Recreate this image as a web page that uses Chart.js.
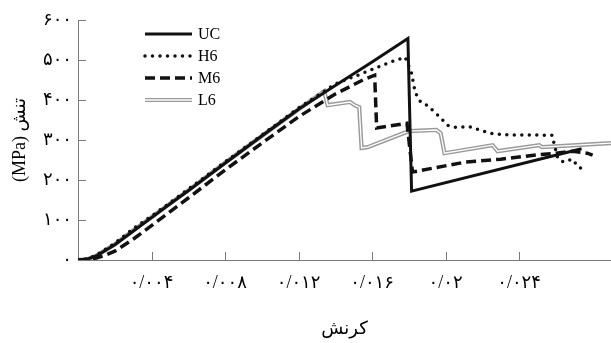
<!DOCTYPE html>
<html lang="fa">
<head>
<meta charset="utf-8">
<script src="https://cdn.jsdelivr.net/npm/chart.js@4"></script>
<style>
  body { margin: 0; background: #fff; }
</style>
</head>
<body>
<canvas id="stress_strain" width="611" height="343" dir="rtl"></canvas>
<script>
// [strain, stress MPa]
var UC = [[0,0],[0.0005,2],[0.001,10],[0.002,38],[0.003,72],[0.004,106],[0.005,140],[0.006,173],
  [0.008,242],[0.010,310],[0.012,377],[0.014,436],[0.016,495],[0.01795,554],[0.01815,172],[0.0274,278]];

var H6 = [[0,0],[0.0005,3],[0.001,12],[0.002,42],[0.003,78],[0.004,110],[0.005,143],[0.006,177],
  [0.008,245],[0.010,312],[0.012,380],[0.014,440],[0.0155,467],[0.0162,480],[0.017,495],[0.0178,507],
  [0.01815,467],[0.01832,425],[0.01848,405],[0.0187,392],[0.019,387],[0.0197,357],[0.0201,337],
  [0.0205,332],[0.0213,333],[0.0224,317],[0.0232,313],[0.0258,312],[0.0259,292],[0.0261,255],
  [0.0264,245],[0.0269,252],[0.0271,240],[0.0273,230],[0.0277,232]];

var M6 = [[0,0],[0.0005,1],[0.001,5],[0.0015,12],[0.002,22],[0.003,52],[0.004,86],[0.006,155],
  [0.008,225],[0.010,292],[0.012,358],[0.014,415],[0.0155,450],[0.01614,462],[0.01625,330],
  [0.0179,342],[0.0182,220],[0.0211,245],[0.0230,252],[0.0248,262],[0.0260,267],[0.0269,272],
  [0.0277,267],[0.0280,262]];

var L6 = [[0,0],[0.0005,2],[0.001,11],[0.002,39],[0.003,74],[0.004,107],[0.005,141],[0.006,174],
  [0.008,243],[0.010,310],[0.012,377],[0.0134,422],[0.01358,387],[0.0148,395],[0.01505,387],
  [0.0153,382],[0.01543,280],[0.01576,282],[0.0180,322],[0.0195,325],[0.01973,317],[0.01994,267],
  [0.02256,287],[0.02283,272],[0.0251,287],[0.02525,282],[0.029,292]];

var xTicks = [0.004, 0.008, 0.012, 0.016, 0.02, 0.024];
var xTickLabels = ['۰/۰۰۴', '۰/۰۰۸', '۰/۰۱۲', '۰/۰۱۶', '۰/۰۲', '۰/۰۲۴'];
var yTicks = [0, 100, 200, 300, 400, 500, 600];
var yTickLabels = ['۰', '۱۰۰', '۲۰۰', '۳۰۰', '۴۰۰', '۵۰۰', '۶۰۰'];

function pts(arr) {
  return arr.map(function (p) { return { x: p[0], y: p[1] }; });
}

var serif = "'Liberation Serif', 'DejaVu Sans', serif";
var axisGray = '#7a7a7a';

// short tick marks pointing into the plot
var innerTicks = {
  id: 'innerTicks',
  afterDraw: function (chart) {
    var ctx = chart.ctx, a = chart.chartArea;
    var xs = chart.scales.x, ys = chart.scales.y;
    ctx.save();
    ctx.strokeStyle = axisGray;
    ctx.lineWidth = 1;
    ctx.beginPath();
    xTicks.forEach(function (v) {
      var px = Math.round(xs.getPixelForValue(v)) + 0.5;
      ctx.moveTo(px, a.bottom);
      ctx.lineTo(px, a.bottom - 8);
    });
    yTicks.forEach(function (v) {
      if (v === 0) return;
      var py = Math.round(ys.getPixelForValue(v)) + 0.5;
      ctx.moveTo(a.left, py);
      ctx.lineTo(a.left + 8, py);
    });
    ctx.stroke();
    ctx.restore();
  }
};

// legend with line samples, top left inside the plot
var lineLegend = {
  id: 'lineLegend',
  afterDraw: function (chart) {
    var ctx = chart.ctx, a = chart.chartArea;
    var x0 = a.left + 67, len = 47;
    var y = a.top + 14;
    ctx.save();
    chart.data.datasets.forEach(function (ds) {
      if (!ds.label) return;
      ctx.beginPath();
      ctx.setLineDash(ds.borderDash || []);
      ctx.lineCap = ds.borderCapStyle || 'butt';
      ctx.strokeStyle = ds.borderColor;
      ctx.lineWidth = ds.borderWidth;
      ctx.moveTo(x0, y);
      ctx.lineTo(x0 + len, y);
      ctx.stroke();
      if (ds.label === 'L6') {
        ctx.beginPath();
        ctx.strokeStyle = '#fff';
        ctx.lineWidth = 1.3;
        ctx.moveTo(x0, y);
        ctx.lineTo(x0 + len, y);
        ctx.stroke();
      }
      ctx.setLineDash([]);
      ctx.fillStyle = '#000';
      ctx.font = '16px ' + serif;
      ctx.textAlign = 'left';
      ctx.textBaseline = 'middle';
      ctx.fillText(ds.label, x0 + len + 6, y + 1);
      y += 22;
    });
    ctx.restore();
  }
};

var ctx = document.getElementById('stress_strain').getContext('2d');

new Chart(ctx, {
  type: 'line',
  data: {
    datasets: [
      { label: 'UC', data: pts(UC), borderColor: '#111', borderWidth: 3, order: 0 },
      { label: 'H6', data: pts(H6), borderColor: '#111', borderWidth: 3.5,
        borderDash: [0, 7.5], borderCapStyle: 'round', order: 1 },
      { label: 'M6', data: pts(M6), borderColor: '#111', borderWidth: 3.5,
        borderDash: [10, 5], order: 2 },
      { label: 'L6', data: pts(L6), borderColor: '#9a9a9a', borderWidth: 4.2, order: 4 },
      // white core of the double line
      { label: '', data: pts(L6), borderColor: '#fff', borderWidth: 1.3, order: 3 }
    ]
  },
  options: {
    responsive: false,
    animation: false,
    events: [],
    elements: { point: { radius: 0 }, line: { tension: 0, fill: false } },
    layout: { padding: { top: 20, right: 0, bottom: 3, left: 2 } },
    plugins: {
      legend: { display: false },
      tooltip: { enabled: false }
    },
    scales: {
      x: {
        type: 'linear',
        min: 0,
        max: 0.029,
        grid: { display: false, drawTicks: false },
        border: { display: true, color: axisGray, width: 1 },
        afterBuildTicks: function (scale) {
          scale.ticks = xTicks.map(function (v) { return { value: v }; });
        },
        afterFit: function (scale) { scale.height = 80; },
        ticks: {
          padding: 12,
          maxRotation: 0,
          color: '#000',
          font: { family: serif, size: 18 },
          callback: function (v) {
            var i = xTicks.indexOf(v);
            return i < 0 ? '' : xTickLabels[i];
          }
        },
        title: {
          display: true,
          text: 'کرنش',
          color: '#000',
          font: { family: serif, size: 18 },
          padding: { top: 27, bottom: 0 }
        }
      },
      y: {
        min: 0,
        max: 600,
        grid: { display: false, drawTicks: false },
        border: { display: true, color: axisGray, width: 1 },
        afterBuildTicks: function (scale) {
          scale.ticks = yTicks.map(function (v) { return { value: v }; });
        },
        afterFit: function (scale) { scale.width = 76; },
        ticks: {
          padding: 6,
          color: '#000',
          font: { family: serif, size: 18 },
          callback: function (v) {
            var i = yTicks.indexOf(v);
            return i < 0 ? '' : yTickLabels[i];
          }
        },
        title: {
          display: true,
          text: 'تنش (MPa)',
          color: '#000',
          font: { family: serif, size: 18 },
          padding: { top: 7, bottom: 0 }
        }
      }
    }
  },
  plugins: [innerTicks, lineLegend]
});
</script>
</body>
</html>
